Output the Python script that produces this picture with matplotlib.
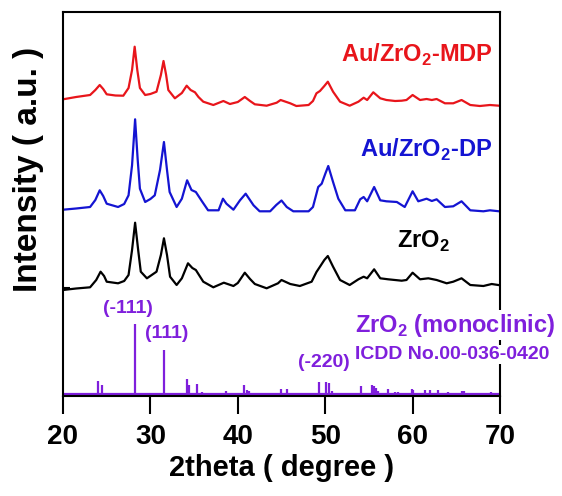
import numpy as np
import matplotlib
matplotlib.use("Agg")
import matplotlib.pyplot as plt

plt.rcParams['font.family'] = ['Liberation Sans', 'DejaVu Sans']
plt.rcParams['mathtext.fontset'] = 'custom'
plt.rcParams['mathtext.bf'] = 'Liberation Sans:bold'
plt.rcParams['mathtext.rm'] = 'Liberation Sans:bold'

# --- XRD patterns (2theta in degree, intensity in a.u. above each baseline) ---
mdp_2theta = [20.0, 21.5, 23.1, 23.7, 24.2, 24.6, 25.0, 26.0, 26.9, 27.5, 27.9, 28.2, 28.5,
              28.8, 29.4, 30.0, 30.7, 31.2, 31.5, 31.8, 32.05, 32.8, 33.6, 34.15, 34.6, 35.1,
              35.5, 36.05, 37.2, 38.35, 39.1, 40.0, 40.8, 41.4, 41.95, 43.3, 44.45, 44.9, 46.0,
              46.7, 48.1, 48.6, 49.0, 49.4, 49.9, 50.3, 50.9, 51.7, 52.8, 53.8, 54.4, 54.8,
              55.5, 56.3, 57.0, 58.0, 58.75, 59.3, 60.0, 60.85, 61.6, 62.2, 62.75, 63.7, 64.65,
              65.6, 66.6, 67.7, 68.85, 69.9]
mdp_int = [6.7, 9, 11, 16, 21, 17, 11.7, 10.5, 10.3, 18, 36, 59.3, 36,
           18, 11, 12, 14.3, 31, 45, 31, 16, 7.7, 13, 20.3, 16, 13.7,
           9, 4.3, 1, 5, 2, 4, 9, 5, 1.7, 0.3, 3.3, 6, 2.7,
           0, 1, 5, 12.7, 15, 20, 24.3, 14.3, 4.3, 0.3, 4.3, 8.3, 6,
           13.7, 7.7, 6, 5, 5.3, 6, 11, 6, 7, 6, 7, 2.7, 2.7,
           6, 1, 0, 1, 0.3]

dp_2theta = [20.0, 21.5, 23.1, 23.7, 24.2, 24.6, 25.0, 26.3, 27.0, 27.5, 27.9, 28.25, 28.55,
             28.8, 29.4, 30.0, 30.5, 31.1, 31.55, 31.9, 32.2, 33.0, 33.6, 34.2, 34.7, 35.2,
             35.9, 36.6, 37.8, 38.3, 38.7, 39.5, 40.25, 40.9, 41.8, 42.5, 43.7, 44.4, 45.0,
             45.6, 46.35, 48.1, 48.6, 49.2, 49.6, 50.0, 50.35, 50.9, 51.5, 52.3, 53.4, 54.0,
             54.4, 54.8, 55.6, 56.3, 57.0, 58.2, 59.1, 60.0, 60.65, 61.6, 62.2, 62.75, 63.7,
             64.65, 65.6, 66.6, 68.1, 68.85, 69.9]
dp_int = [1.6, 2.8, 4.3, 11.3, 21, 15.3, 7.6, 4.3, 7.3, 16, 46, 92, 51,
          22.6, 9.3, 12.3, 16, 41.3, 69.3, 41.3, 19.3, 4.3, 12.6, 31, 21.3, 19.3,
          10, 1, 1, 12.6, 7.6, 1.6, 11, 17.6, 6, 0, 0, 6.3, 10.8,
          4.3, 0, 0, 4.3, 24.3, 27.6, 37.3, 45.3, 29.3, 12.6, 1, 1, 12,
          14.3, 10, 24.3, 11, 10, 9.3, 4.3, 20, 10, 12.6, 10.3, 12, 4.3,
          5, 10, 1, 0, 1, 0]

zro2_2theta = [20.0, 21.5, 23.1, 23.8, 24.3, 24.7, 25.0, 26.3, 27.0, 27.5, 27.9, 28.25, 28.6,
               28.9, 29.6, 30.7, 31.2, 31.55, 31.9, 32.25, 33.0, 33.6, 34.3, 34.8, 35.2, 36.05,
               37.2, 38.4, 39.5, 40.0, 40.8, 41.4, 41.95, 43.3, 44.6, 45.0, 46.0, 47.1, 48.45,
               49.0, 49.4, 49.9, 50.3, 50.9, 51.7, 52.8, 53.8, 54.4, 54.8, 55.6, 56.3, 57.2,
               58.75, 59.3, 60.0, 60.85, 61.8, 62.75, 63.9, 64.65, 65.6, 66.6, 68.1, 69.05, 69.8]
zro2_int = [0, 1.5, 2.7, 10, 18.3, 14, 8.3, 6.7, 9, 15, 40, 67.3, 40,
            18.3, 11.7, 18.3, 35, 51.7, 35, 13.3, 5, 11.7, 26.7, 22, 20, 8.3,
            2.7, 7.3, 4, 7, 17.3, 11, 6, 1.7, 6.7, 10, 6, 4, 8.3,
            18, 23.3, 30, 34, 23.3, 10, 5, 10.7, 13.3, 11.7, 20.7, 11.7, 10.7,
            9.3, 10, 17.3, 10.7, 11.7, 10, 6.7, 8.3, 11.7, 5, 4, 6, 5]

# ICDD 00-036-0420 monoclinic ZrO2 reference lines
ref_2theta = [24.05, 24.45, 28.2, 31.5, 34.15, 34.4, 35.3, 35.9, 38.6, 40.75, 41.0, 41.3,
              44.9, 45.6, 49.3, 50.1, 50.4, 50.8, 54.1, 55.4, 55.6, 55.8, 56.0, 57.2, 58.0,
              58.3, 59.9, 60.1, 61.4, 62.0, 62.9, 64.1, 65.7, 65.9, 69.0]
ref_int = [13, 9, 70, 44, 15, 9, 10, 2, 3, 9, 4, 3,
           5, 5, 12, 12, 11, 3, 8, 9, 8, 6, 3, 5, 2,
           2, 5, 4, 4, 4, 4, 2, 3, 3, 2]

xticks = [20, 30, 40, 50, 60, 70]

RED = '#e8151b'
BLUE = '#1414d2'
PURPLE = '#7f1fdc'

fig = plt.figure(figsize=(5.62, 4.96), dpi=100)
ax = fig.add_axes([63 / 562, 100 / 496, 437 / 562, 384 / 496])

# stacked curves, offsets just to separate them
ax.plot(mdp_2theta, np.array(mdp_int) + 288, color=RED, lw=1.6)
ax.plot(dp_2theta, np.array(dp_int) + 182.7, color=BLUE, lw=1.6)
ax.plot(zro2_2theta, np.array(zro2_int) + 104, color='black', lw=1.6)

# reference sticks
ax.vlines(ref_2theta, 0, ref_int, color=PURPLE, lw=1.6)
ax.axhline(0, color=PURPLE, lw=1.6)

lab = dict(fontsize=17, fontweight='bold')
ax.text(69.2, 339, r'Au/ZrO$_\mathbf{2}$-MDP', color=RED, ha='right', va='center', **lab)
ax.text(69.1, 244, r'Au/ZrO$_\mathbf{2}$-DP', color=BLUE, ha='right', va='center', **lab)
ax.text(64.3, 153, r'ZrO$_\mathbf{2}$', color='black', ha='right', va='center', **lab)

hkl = dict(color=PURPLE, ha='center', va='baseline', fontsize=14, fontweight='bold')
ax.text(27.4, 81, '(-111)', **hkl)
ax.text(31.9, 55.7, '(111)', **hkl)
ax.text(49.8, 27.3, '(-220)', **hkl)
ax.text(53.4, 62.3, r'ZrO$_\mathbf{2}$ (monoclinic)', color=PURPLE, ha='left', va='baseline',
        fontsize=17, fontweight='bold', clip_on=False,
        bbox=dict(facecolor='white', edgecolor='none', pad=1))
ax.text(53.4, 35, 'ICDD No.00-036-0420', color=PURPLE, ha='left', va='baseline',
        fontsize=14, fontweight='bold', clip_on=False,
        bbox=dict(facecolor='white', edgecolor='none', pad=1))

ax.set_xlim(20, 70)
ax.set_ylim(-2, 382)
ax.set_xticks(xticks)
ax.set_xticklabels([str(t) for t in xticks], fontsize=20, fontweight='bold')
ax.set_yticks([106])
ax.tick_params(axis='x', direction='out', length=13, width=1.5, pad=7)
ax.tick_params(axis='y', direction='in', length=5, width=1.5, labelleft=False)
for s in ax.spines.values():
    s.set_linewidth(1.5)

ax.set_xlabel('2theta ( degree )', fontsize=21, fontweight='bold', labelpad=3)
ax.set_ylabel('Intensity ( a.u. )', fontsize=24, fontweight='bold')
ax.yaxis.set_label_coords(-0.078, 0.59)
ax.yaxis.label.set_va('center')

fig.savefig('out.png', dpi=100)
